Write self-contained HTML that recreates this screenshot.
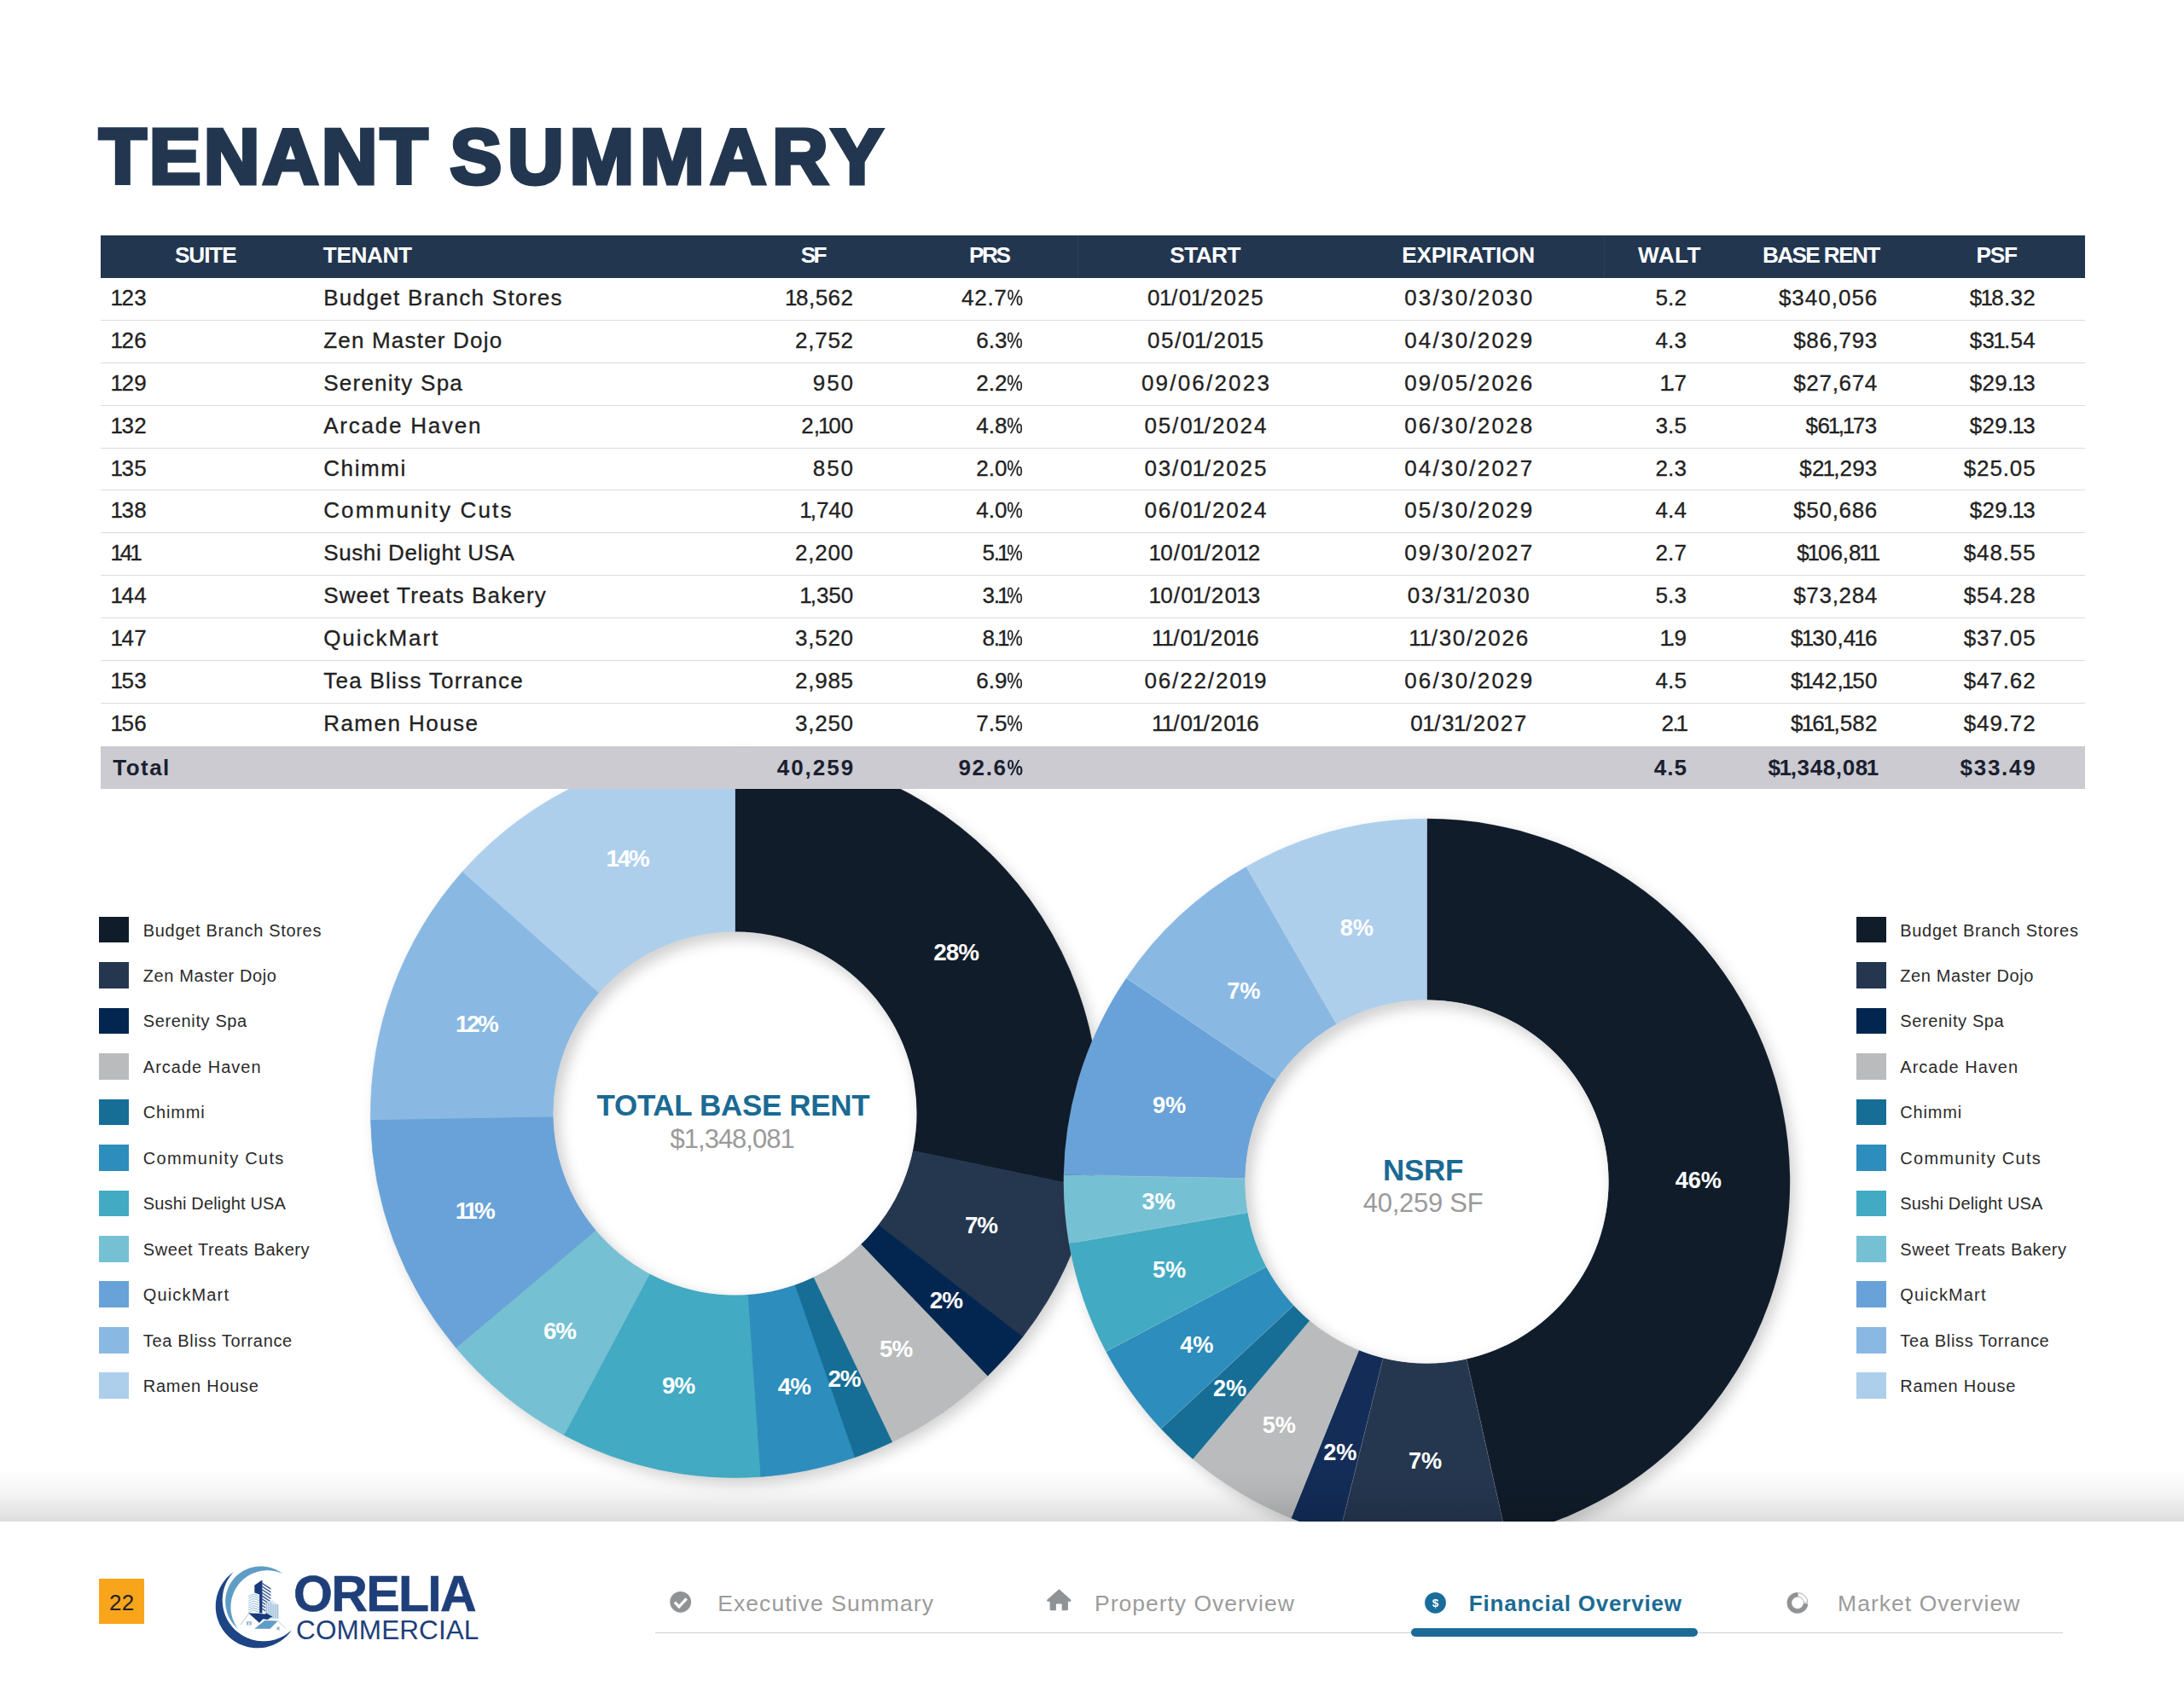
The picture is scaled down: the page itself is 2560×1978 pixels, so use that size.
<!DOCTYPE html>
<html><head><meta charset="utf-8"><title>Tenant Summary</title>
<style>
html,body{margin:0;padding:0;background:#fff}
body{width:2560px;height:1978px;position:relative;overflow:hidden;font-family:"Liberation Sans",sans-serif}
.t{position:absolute;white-space:pre;margin:0}
.r{position:absolute}
.t i{font-style:normal;margin:0 -2px}
.t b{display:inline-block;font-weight:inherit;transform:scaleX(.8);margin:0 -2.3px}
.dl1,.dl2{font-family:"Liberation Sans",sans-serif;font-weight:700;fill:#fff}
.dl1{font-size:27.8px;letter-spacing:-1px}
.dl2{font-size:27.2px;letter-spacing:-0.1px}
</style></head><body>
<h1 class="t" style="left:116.2px;top:138.8px;font-size:90.3px;line-height:90.3px;font-weight:700;color:#22364f;-webkit-text-stroke:5px #22364f;word-spacing:-2.23px"><span style="letter-spacing:3.74px">TENANT</span> <span style="letter-spacing:7.32px">SUMMARY</span></h1>
<svg class="r" style="left:0;top:0" width="2560" height="1978" viewBox="0 0 2560 1978">
<defs><filter id="sh" x="-10%" y="-10%" width="125%" height="125%"><feGaussianBlur in="SourceAlpha" stdDeviation="9"/><feOffset dx="6" dy="7"/><feComponentTransfer><feFuncA type="linear" slope="0.2"/></feComponentTransfer></filter><filter id="bl" x="-10%" y="-10%" width="120%" height="120%"><feGaussianBlur stdDeviation="8"/></filter></defs>
<circle cx="861.5" cy="1305.5" r="426" fill="#5a6470" filter="url(#sh)"/>
<path d="M861.50 878.50A427 427 0 0 1 1279.39 1393.21L1069.96 1349.25A213 213 0 0 0 861.50 1092.50Z" fill="#101c2a" stroke="#101c2a" stroke-width="0.7"/>
<path d="M1279.39 1393.21A427 427 0 0 1 1198.67 1567.51L1029.69 1436.20A213 213 0 0 0 1069.96 1349.25Z" fill="#25364f" stroke="#25364f" stroke-width="0.7"/>
<path d="M1198.67 1567.51A427 427 0 0 1 1157.37 1613.38L1009.09 1459.08A213 213 0 0 0 1029.69 1436.20Z" fill="#02264f" stroke="#02264f" stroke-width="0.7"/>
<path d="M1157.37 1613.38A427 427 0 0 1 1045.58 1690.78L953.33 1497.69A213 213 0 0 0 1009.09 1459.08Z" fill="#b9bbbc" stroke="#b9bbbc" stroke-width="0.7"/>
<path d="M1045.58 1690.78A427 427 0 0 1 1001.65 1708.85L931.41 1506.70A213 213 0 0 0 953.33 1497.69Z" fill="#166e96" stroke="#166e96" stroke-width="0.7"/>
<path d="M1001.65 1708.85A427 427 0 0 1 891.13 1731.47L876.28 1517.99A213 213 0 0 0 931.41 1506.70Z" fill="#2d8dbc" stroke="#2d8dbc" stroke-width="0.7"/>
<path d="M891.13 1731.47A427 427 0 0 1 660.95 1682.47L761.46 1493.54A213 213 0 0 0 876.28 1517.99Z" fill="#42aac2" stroke="#42aac2" stroke-width="0.7"/>
<path d="M660.95 1682.47A427 427 0 0 1 534.57 1580.18L698.42 1442.52A213 213 0 0 0 761.46 1493.54Z" fill="#76c0d4" stroke="#76c0d4" stroke-width="0.7"/>
<path d="M534.57 1580.18A427 427 0 0 1 434.56 1312.76L648.53 1309.12A213 213 0 0 0 698.42 1442.52Z" fill="#68a2d8" stroke="#68a2d8" stroke-width="0.7"/>
<path d="M434.56 1312.76A427 427 0 0 1 542.20 1021.99L702.23 1164.08A213 213 0 0 0 648.53 1309.12Z" fill="#89b9e3" stroke="#89b9e3" stroke-width="0.7"/>
<path d="M542.20 1021.99A427 427 0 0 1 861.50 878.50L861.50 1092.50A213 213 0 0 0 702.23 1164.08Z" fill="#aecfec" stroke="#aecfec" stroke-width="0.7"/>
<clipPath id="hc1"><circle cx="861.5" cy="1305.5" r="213"/></clipPath>
<circle cx="861.5" cy="1305.5" r="213" fill="#fff"/>
<g clip-path="url(#hc1)"><circle cx="867.5" cy="1312.5" r="223" fill="none" stroke="#000" stroke-opacity="0.19" stroke-width="22" filter="url(#bl)"/></g>
<text x="1120.6" y="1126.3" text-anchor="middle" class="dl1">28%</text>
<text x="1150.0" y="1446.1" text-anchor="middle" class="dl1">7%</text>
<text x="1108.8" y="1533.8" text-anchor="middle" class="dl1">2%</text>
<text x="1050.2" y="1590.9" text-anchor="middle" class="dl1">5%</text>
<text x="989.5" y="1626.1" text-anchor="middle" class="dl1">2%</text>
<text x="930.9" y="1635.3" text-anchor="middle" class="dl1">4%</text>
<text x="795.2" y="1633.7" text-anchor="middle" class="dl1">9%</text>
<text x="656.0" y="1570.0" text-anchor="middle" class="dl1">6%</text>
<text x="555.5" y="1428.7" text-anchor="middle" class="dl1" style="letter-spacing:-3.6px">11%</text>
<text x="558.1" y="1209.5" text-anchor="middle" class="dl1" style="letter-spacing:-2.4px">12%</text>
<text x="735.0" y="1015.7" text-anchor="middle" class="dl1" style="letter-spacing:-2.2px">14%</text>
<circle cx="1672.5" cy="1385.5" r="424.7" fill="#5a6470" filter="url(#sh)"/>
<path d="M1672.50 959.80A425.7 425.7 0 0 1 1765.36 1800.95L1718.96 1593.37A213 213 0 0 0 1672.50 1172.50Z" fill="#101c2a" stroke="#fff" stroke-opacity="0.09" stroke-width="1.1"/>
<path d="M1765.36 1800.95A425.7 425.7 0 0 1 1570.00 1798.68L1621.22 1592.23A213 213 0 0 0 1718.96 1593.37Z" fill="#25364f" stroke="#fff" stroke-opacity="0.09" stroke-width="1.1"/>
<path d="M1570.00 1798.68A425.7 425.7 0 0 1 1513.31 1780.31L1592.85 1583.05A213 213 0 0 0 1621.22 1592.23Z" fill="#132d58" stroke="#fff" stroke-opacity="0.09" stroke-width="1.1"/>
<path d="M1513.31 1780.31A425.7 425.7 0 0 1 1398.27 1711.11L1535.29 1548.42A213 213 0 0 0 1592.85 1583.05Z" fill="#b9bbbc" stroke="#fff" stroke-opacity="0.09" stroke-width="1.1"/>
<path d="M1398.27 1711.11A425.7 425.7 0 0 1 1360.72 1675.35L1516.50 1530.53A213 213 0 0 0 1535.29 1548.42Z" fill="#166e96" stroke="#fff" stroke-opacity="0.09" stroke-width="1.1"/>
<path d="M1360.72 1675.35A425.7 425.7 0 0 1 1296.28 1584.70L1484.26 1485.17A213 213 0 0 0 1516.50 1530.53Z" fill="#2d8dbc" stroke="#fff" stroke-opacity="0.09" stroke-width="1.1"/>
<path d="M1296.28 1584.70A425.7 425.7 0 0 1 1253.00 1457.90L1462.60 1421.73A213 213 0 0 0 1484.26 1485.17Z" fill="#42aac2" stroke="#fff" stroke-opacity="0.09" stroke-width="1.1"/>
<path d="M1253.00 1457.90A425.7 425.7 0 0 1 1246.88 1377.48L1459.54 1381.49A213 213 0 0 0 1462.60 1421.73Z" fill="#76c0d4" stroke="#fff" stroke-opacity="0.09" stroke-width="1.1"/>
<path d="M1246.88 1377.48A425.7 425.7 0 0 1 1320.11 1146.66L1496.18 1266.00A213 213 0 0 0 1459.54 1381.49Z" fill="#68a2d8" stroke="#fff" stroke-opacity="0.09" stroke-width="1.1"/>
<path d="M1320.11 1146.66A425.7 425.7 0 0 1 1460.89 1016.12L1566.62 1200.68A213 213 0 0 0 1496.18 1266.00Z" fill="#89b9e3" stroke="#fff" stroke-opacity="0.09" stroke-width="1.1"/>
<path d="M1460.89 1016.12A425.7 425.7 0 0 1 1672.50 959.80L1672.50 1172.50A213 213 0 0 0 1566.62 1200.68Z" fill="#aecfec" stroke="#fff" stroke-opacity="0.09" stroke-width="1.1"/>
<clipPath id="hc2"><circle cx="1672.5" cy="1385.5" r="213"/></clipPath>
<circle cx="1672.5" cy="1385.5" r="213" fill="#fff"/>
<g clip-path="url(#hc2)"><circle cx="1678.5" cy="1392.5" r="223" fill="none" stroke="#000" stroke-opacity="0.19" stroke-width="22" filter="url(#bl)"/></g>
<text x="1990.8" y="1393.0" text-anchor="middle" class="dl2">46%</text>
<text x="1670.5" y="1721.7" text-anchor="middle" class="dl2">7%</text>
<text x="1570.9" y="1712.3" text-anchor="middle" class="dl2">2%</text>
<text x="1499.4" y="1679.9" text-anchor="middle" class="dl2">5%</text>
<text x="1441.5" y="1636.6" text-anchor="middle" class="dl2">2%</text>
<text x="1402.9" y="1586.0" text-anchor="middle" class="dl2">4%</text>
<text x="1370.6" y="1498.4" text-anchor="middle" class="dl2">5%</text>
<text x="1358.1" y="1418.1" text-anchor="middle" class="dl2">3%</text>
<text x="1370.6" y="1305.4" text-anchor="middle" class="dl2">9%</text>
<text x="1457.7" y="1171.3" text-anchor="middle" class="dl2">7%</text>
<text x="1590.2" y="1096.7" text-anchor="middle" class="dl2">8%</text>
</svg>
<div class="t" style="left:699.6px;top:1278.2px;font-size:35px;line-height:35px;font-weight:700;color:#1a6a94;letter-spacing:-0.34px;">TOTAL BASE RENT</div>
<div class="t" style="left:785.6px;top:1320.0px;font-size:31px;line-height:31px;font-weight:400;color:#9a9a9a;letter-spacing:-1.01px;">$1,348,081</div>
<div class="t" style="left:1621.1px;top:1353.6px;font-size:35px;line-height:35px;font-weight:700;color:#1a6a94;letter-spacing:-0.33px;">NSRF</div>
<div class="t" style="left:1597.7px;top:1394.6px;font-size:31px;line-height:31px;font-weight:400;color:#9a9a9a;letter-spacing:-0.26px;">40,259 SF</div>
<div class="r" style="left:117.5px;top:276.4px;width:2326.7px;height:49.5px;background:#22364f;"></div>
<div class="r" style="left:1263.2px;top:276.4px;width:1.2px;height:49.5px;background:#2c4059;"></div>
<div class="r" style="left:1880.0px;top:276.4px;width:1.2px;height:49.5px;background:#2c4059;"></div>
<div class="t" style="left:204.9px;top:286.2px;font-size:26.2px;line-height:26.2px;font-weight:700;color:#fff;letter-spacing:-1.06px;">SUITE</div>
<div class="t" style="left:378.8px;top:286.2px;font-size:26.2px;line-height:26.2px;font-weight:700;color:#fff;letter-spacing:-0.40px;">TENANT</div>
<div class="t" style="left:938.7px;top:286.2px;font-size:26.2px;line-height:26.2px;font-weight:700;color:#fff;letter-spacing:-2.55px;">SF</div>
<div class="t" style="left:1135.9px;top:286.2px;font-size:26.2px;line-height:26.2px;font-weight:700;color:#fff;letter-spacing:-2.37px;">PRS</div>
<div class="t" style="left:1371.3px;top:286.2px;font-size:26.2px;line-height:26.2px;font-weight:700;color:#fff;letter-spacing:-0.56px;">START</div>
<div class="t" style="left:1643.2px;top:286.2px;font-size:26.2px;line-height:26.2px;font-weight:700;color:#fff;letter-spacing:-0.24px;">EXPIRATION</div>
<div class="t" style="left:1920.1px;top:286.2px;font-size:26.2px;line-height:26.2px;font-weight:700;color:#fff;letter-spacing:0.39px;">WALT</div>
<div class="t" style="left:2065.9px;top:286.2px;font-size:26.2px;line-height:26.2px;font-weight:700;color:#fff;letter-spacing:-1.61px;">BASE RENT</div>
<div class="t" style="left:2316.5px;top:286.2px;font-size:26.2px;line-height:26.2px;font-weight:700;color:#fff;letter-spacing:-1.21px;">PSF</div>
<div class="r" style="left:117.5px;top:375.0px;width:2326.7px;height:1.0px;background:#dcdcdf;"></div>
<div class="t" style="left:131.5px;top:336.1px;font-size:26px;line-height:26px;font-weight:400;color:#222;letter-spacing:0.44px;-webkit-text-stroke:.3px;"><i>1</i>23</div>
<div class="t" style="left:379.2px;top:336.1px;font-size:26px;line-height:26px;font-weight:400;color:#222;letter-spacing:1.31px;-webkit-text-stroke:.3px;">Budget Branch Stores</div>
<div class="t" style="left:921.9px;top:336.1px;font-size:26px;line-height:26px;font-weight:400;color:#222;letter-spacing:0.53px;-webkit-text-stroke:.3px;"><i>1</i>8,562</div>
<div class="t" style="left:1127.0px;top:336.1px;font-size:26px;line-height:26px;font-weight:400;color:#222;letter-spacing:0.74px;-webkit-text-stroke:.3px;">42.7<b>%</b></div>
<div class="t" style="left:1345.0px;top:336.1px;font-size:26px;line-height:26px;font-weight:400;color:#222;letter-spacing:1.52px;-webkit-text-stroke:.3px;">0<i>1</i>/0<i>1</i>/2025</div>
<div class="t" style="left:1646.2px;top:336.1px;font-size:26px;line-height:26px;font-weight:400;color:#222;letter-spacing:2.21px;-webkit-text-stroke:.3px;">03/30/2030</div>
<div class="t" style="left:1940.4px;top:336.1px;font-size:26px;line-height:26px;font-weight:400;color:#222;letter-spacing:0.19px;-webkit-text-stroke:.3px;">5.2</div>
<div class="t" style="left:2084.9px;top:336.1px;font-size:26px;line-height:26px;font-weight:400;color:#222;letter-spacing:1.00px;-webkit-text-stroke:.3px;">$340,056</div>
<div class="t" style="left:2308.8px;top:336.1px;font-size:26px;line-height:26px;font-weight:400;color:#222;letter-spacing:0.27px;-webkit-text-stroke:.3px;">$<i>1</i>8.32</div>
<div class="r" style="left:117.5px;top:425.0px;width:2326.7px;height:1.0px;background:#dcdcdf;"></div>
<div class="t" style="left:131.5px;top:385.9px;font-size:26px;line-height:26px;font-weight:400;color:#222;letter-spacing:0.44px;-webkit-text-stroke:.3px;"><i>1</i>26</div>
<div class="t" style="left:379.2px;top:385.9px;font-size:26px;line-height:26px;font-weight:400;color:#222;letter-spacing:1.20px;-webkit-text-stroke:.3px;">Zen Master Dojo</div>
<div class="t" style="left:932.1px;top:385.9px;font-size:26px;line-height:26px;font-weight:400;color:#222;letter-spacing:0.72px;-webkit-text-stroke:.3px;">2,752</div>
<div class="t" style="left:1144.3px;top:385.9px;font-size:26px;line-height:26px;font-weight:400;color:#222;letter-spacing:0.04px;-webkit-text-stroke:.3px;">6.3<b>%</b></div>
<div class="t" style="left:1345.0px;top:385.9px;font-size:26px;line-height:26px;font-weight:400;color:#222;letter-spacing:1.52px;-webkit-text-stroke:.3px;">05/0<i>1</i>/20<i>1</i>5</div>
<div class="t" style="left:1646.2px;top:385.9px;font-size:26px;line-height:26px;font-weight:400;color:#222;letter-spacing:2.21px;-webkit-text-stroke:.3px;">04/30/2029</div>
<div class="t" style="left:1940.4px;top:385.9px;font-size:26px;line-height:26px;font-weight:400;color:#222;letter-spacing:0.19px;-webkit-text-stroke:.3px;">4.3</div>
<div class="t" style="left:2102.2px;top:385.9px;font-size:26px;line-height:26px;font-weight:400;color:#222;letter-spacing:0.69px;-webkit-text-stroke:.3px;">$86,793</div>
<div class="t" style="left:2308.8px;top:385.9px;font-size:26px;line-height:26px;font-weight:400;color:#222;letter-spacing:0.27px;-webkit-text-stroke:.3px;">$3<i>1</i>.54</div>
<div class="r" style="left:117.5px;top:475.0px;width:2326.7px;height:1.0px;background:#dcdcdf;"></div>
<div class="t" style="left:131.5px;top:435.8px;font-size:26px;line-height:26px;font-weight:400;color:#222;letter-spacing:0.44px;-webkit-text-stroke:.3px;"><i>1</i>29</div>
<div class="t" style="left:379.2px;top:435.8px;font-size:26px;line-height:26px;font-weight:400;color:#222;letter-spacing:1.25px;-webkit-text-stroke:.3px;">Serenity Spa</div>
<div class="t" style="left:952.7px;top:435.8px;font-size:26px;line-height:26px;font-weight:400;color:#222;letter-spacing:1.99px;-webkit-text-stroke:.3px;">950</div>
<div class="t" style="left:1144.3px;top:435.8px;font-size:26px;line-height:26px;font-weight:400;color:#222;letter-spacing:0.04px;-webkit-text-stroke:.3px;">2.2<b>%</b></div>
<div class="t" style="left:1337.9px;top:435.8px;font-size:26px;line-height:26px;font-weight:400;color:#222;letter-spacing:2.21px;-webkit-text-stroke:.3px;">09/06/2023</div>
<div class="t" style="left:1646.2px;top:435.8px;font-size:26px;line-height:26px;font-weight:400;color:#222;letter-spacing:2.21px;-webkit-text-stroke:.3px;">09/05/2026</div>
<div class="t" style="left:1947.5px;top:435.8px;font-size:26px;line-height:26px;font-weight:400;color:#222;letter-spacing:-1.36px;-webkit-text-stroke:.3px;"><i>1</i>.7</div>
<div class="t" style="left:2102.2px;top:435.8px;font-size:26px;line-height:26px;font-weight:400;color:#222;letter-spacing:0.69px;-webkit-text-stroke:.3px;">$27,674</div>
<div class="t" style="left:2308.8px;top:435.8px;font-size:26px;line-height:26px;font-weight:400;color:#222;letter-spacing:0.27px;-webkit-text-stroke:.3px;">$29.<i>1</i>3</div>
<div class="r" style="left:117.5px;top:525.0px;width:2326.7px;height:1.0px;background:#dcdcdf;"></div>
<div class="t" style="left:131.5px;top:485.6px;font-size:26px;line-height:26px;font-weight:400;color:#222;letter-spacing:0.44px;-webkit-text-stroke:.3px;"><i>1</i>32</div>
<div class="t" style="left:379.2px;top:485.6px;font-size:26px;line-height:26px;font-weight:400;color:#222;letter-spacing:1.78px;-webkit-text-stroke:.3px;">Arcade Haven</div>
<div class="t" style="left:939.3px;top:485.6px;font-size:26px;line-height:26px;font-weight:400;color:#222;letter-spacing:-0.05px;-webkit-text-stroke:.3px;">2,<i>1</i>00</div>
<div class="t" style="left:1144.3px;top:485.6px;font-size:26px;line-height:26px;font-weight:400;color:#222;letter-spacing:0.04px;-webkit-text-stroke:.3px;">4.8<b>%</b></div>
<div class="t" style="left:1341.4px;top:485.6px;font-size:26px;line-height:26px;font-weight:400;color:#222;letter-spacing:1.87px;-webkit-text-stroke:.3px;">05/0<i>1</i>/2024</div>
<div class="t" style="left:1646.2px;top:485.6px;font-size:26px;line-height:26px;font-weight:400;color:#222;letter-spacing:2.21px;-webkit-text-stroke:.3px;">06/30/2028</div>
<div class="t" style="left:1940.4px;top:485.6px;font-size:26px;line-height:26px;font-weight:400;color:#222;letter-spacing:0.19px;-webkit-text-stroke:.3px;">3.5</div>
<div class="t" style="left:2116.4px;top:485.6px;font-size:26px;line-height:26px;font-weight:400;color:#222;letter-spacing:-0.35px;-webkit-text-stroke:.3px;">$6<i>1</i>,<i>1</i>73</div>
<div class="t" style="left:2308.8px;top:485.6px;font-size:26px;line-height:26px;font-weight:400;color:#222;letter-spacing:0.27px;-webkit-text-stroke:.3px;">$29.<i>1</i>3</div>
<div class="r" style="left:117.5px;top:574.0px;width:2326.7px;height:1.0px;background:#dcdcdf;"></div>
<div class="t" style="left:131.5px;top:535.5px;font-size:26px;line-height:26px;font-weight:400;color:#222;letter-spacing:0.44px;-webkit-text-stroke:.3px;"><i>1</i>35</div>
<div class="t" style="left:379.2px;top:535.5px;font-size:26px;line-height:26px;font-weight:400;color:#222;letter-spacing:1.62px;-webkit-text-stroke:.3px;">Chimmi</div>
<div class="t" style="left:952.7px;top:535.5px;font-size:26px;line-height:26px;font-weight:400;color:#222;letter-spacing:1.99px;-webkit-text-stroke:.3px;">850</div>
<div class="t" style="left:1144.3px;top:535.5px;font-size:26px;line-height:26px;font-weight:400;color:#222;letter-spacing:0.04px;-webkit-text-stroke:.3px;">2.0<b>%</b></div>
<div class="t" style="left:1341.4px;top:535.5px;font-size:26px;line-height:26px;font-weight:400;color:#222;letter-spacing:1.87px;-webkit-text-stroke:.3px;">03/0<i>1</i>/2025</div>
<div class="t" style="left:1646.2px;top:535.5px;font-size:26px;line-height:26px;font-weight:400;color:#222;letter-spacing:2.21px;-webkit-text-stroke:.3px;">04/30/2027</div>
<div class="t" style="left:1940.4px;top:535.5px;font-size:26px;line-height:26px;font-weight:400;color:#222;letter-spacing:0.19px;-webkit-text-stroke:.3px;">2.3</div>
<div class="t" style="left:2109.3px;top:535.5px;font-size:26px;line-height:26px;font-weight:400;color:#222;letter-spacing:0.17px;-webkit-text-stroke:.3px;">$2<i>1</i>,293</div>
<div class="t" style="left:2301.7px;top:535.5px;font-size:26px;line-height:26px;font-weight:400;color:#222;letter-spacing:0.89px;-webkit-text-stroke:.3px;">$25.05</div>
<div class="r" style="left:117.5px;top:624.0px;width:2326.7px;height:1.0px;background:#dcdcdf;"></div>
<div class="t" style="left:131.5px;top:585.4px;font-size:26px;line-height:26px;font-weight:400;color:#222;letter-spacing:0.44px;-webkit-text-stroke:.3px;"><i>1</i>38</div>
<div class="t" style="left:379.2px;top:585.4px;font-size:26px;line-height:26px;font-weight:400;color:#222;letter-spacing:2.16px;-webkit-text-stroke:.3px;">Community Cuts</div>
<div class="t" style="left:939.3px;top:585.4px;font-size:26px;line-height:26px;font-weight:400;color:#222;letter-spacing:-0.05px;-webkit-text-stroke:.3px;"><i>1</i>,740</div>
<div class="t" style="left:1144.3px;top:585.4px;font-size:26px;line-height:26px;font-weight:400;color:#222;letter-spacing:0.04px;-webkit-text-stroke:.3px;">4.0<b>%</b></div>
<div class="t" style="left:1341.4px;top:585.4px;font-size:26px;line-height:26px;font-weight:400;color:#222;letter-spacing:1.87px;-webkit-text-stroke:.3px;">06/0<i>1</i>/2024</div>
<div class="t" style="left:1646.2px;top:585.4px;font-size:26px;line-height:26px;font-weight:400;color:#222;letter-spacing:2.21px;-webkit-text-stroke:.3px;">05/30/2029</div>
<div class="t" style="left:1940.4px;top:585.4px;font-size:26px;line-height:26px;font-weight:400;color:#222;letter-spacing:0.19px;-webkit-text-stroke:.3px;">4.4</div>
<div class="t" style="left:2102.2px;top:585.4px;font-size:26px;line-height:26px;font-weight:400;color:#222;letter-spacing:0.69px;-webkit-text-stroke:.3px;">$50,686</div>
<div class="t" style="left:2308.8px;top:585.4px;font-size:26px;line-height:26px;font-weight:400;color:#222;letter-spacing:0.27px;-webkit-text-stroke:.3px;">$29.<i>1</i>3</div>
<div class="r" style="left:117.5px;top:674.0px;width:2326.7px;height:1.0px;background:#dcdcdf;"></div>
<div class="t" style="left:131.5px;top:635.2px;font-size:26px;line-height:26px;font-weight:400;color:#222;letter-spacing:-1.11px;-webkit-text-stroke:.3px;"><i>1</i>4<i>1</i></div>
<div class="t" style="left:379.2px;top:635.2px;font-size:26px;line-height:26px;font-weight:400;color:#222;letter-spacing:0.61px;-webkit-text-stroke:.3px;">Sushi Delight USA</div>
<div class="t" style="left:932.1px;top:635.2px;font-size:26px;line-height:26px;font-weight:400;color:#222;letter-spacing:0.72px;-webkit-text-stroke:.3px;">2,200</div>
<div class="t" style="left:1151.4px;top:635.2px;font-size:26px;line-height:26px;font-weight:400;color:#222;letter-spacing:-0.99px;-webkit-text-stroke:.3px;">5.<i>1</i><b>%</b></div>
<div class="t" style="left:1348.5px;top:635.2px;font-size:26px;line-height:26px;font-weight:400;color:#222;letter-spacing:1.18px;-webkit-text-stroke:.3px;"><i>1</i>0/0<i>1</i>/20<i>1</i>2</div>
<div class="t" style="left:1646.2px;top:635.2px;font-size:26px;line-height:26px;font-weight:400;color:#222;letter-spacing:2.21px;-webkit-text-stroke:.3px;">09/30/2027</div>
<div class="t" style="left:1940.4px;top:635.2px;font-size:26px;line-height:26px;font-weight:400;color:#222;letter-spacing:0.19px;-webkit-text-stroke:.3px;">2.7</div>
<div class="t" style="left:2106.2px;top:635.2px;font-size:26px;line-height:26px;font-weight:400;color:#222;letter-spacing:-0.06px;-webkit-text-stroke:.3px;">$<i>1</i>06,8<i>1</i><i>1</i></div>
<div class="t" style="left:2301.7px;top:635.2px;font-size:26px;line-height:26px;font-weight:400;color:#222;letter-spacing:0.89px;-webkit-text-stroke:.3px;">$48.55</div>
<div class="r" style="left:117.5px;top:724.0px;width:2326.7px;height:1.0px;background:#dcdcdf;"></div>
<div class="t" style="left:131.5px;top:685.1px;font-size:26px;line-height:26px;font-weight:400;color:#222;letter-spacing:0.44px;-webkit-text-stroke:.3px;"><i>1</i>44</div>
<div class="t" style="left:379.2px;top:685.1px;font-size:26px;line-height:26px;font-weight:400;color:#222;letter-spacing:1.15px;-webkit-text-stroke:.3px;">Sweet Treats Bakery</div>
<div class="t" style="left:939.3px;top:685.1px;font-size:26px;line-height:26px;font-weight:400;color:#222;letter-spacing:-0.05px;-webkit-text-stroke:.3px;"><i>1</i>,350</div>
<div class="t" style="left:1151.4px;top:685.1px;font-size:26px;line-height:26px;font-weight:400;color:#222;letter-spacing:-0.99px;-webkit-text-stroke:.3px;">3.<i>1</i><b>%</b></div>
<div class="t" style="left:1348.5px;top:685.1px;font-size:26px;line-height:26px;font-weight:400;color:#222;letter-spacing:1.18px;-webkit-text-stroke:.3px;"><i>1</i>0/0<i>1</i>/20<i>1</i>3</div>
<div class="t" style="left:1649.7px;top:685.1px;font-size:26px;line-height:26px;font-weight:400;color:#222;letter-spacing:1.87px;-webkit-text-stroke:.3px;">03/3<i>1</i>/2030</div>
<div class="t" style="left:1940.4px;top:685.1px;font-size:26px;line-height:26px;font-weight:400;color:#222;letter-spacing:0.19px;-webkit-text-stroke:.3px;">5.3</div>
<div class="t" style="left:2102.2px;top:685.1px;font-size:26px;line-height:26px;font-weight:400;color:#222;letter-spacing:0.69px;-webkit-text-stroke:.3px;">$73,284</div>
<div class="t" style="left:2301.7px;top:685.1px;font-size:26px;line-height:26px;font-weight:400;color:#222;letter-spacing:0.89px;-webkit-text-stroke:.3px;">$54.28</div>
<div class="r" style="left:117.5px;top:774.0px;width:2326.7px;height:1.0px;background:#dcdcdf;"></div>
<div class="t" style="left:131.5px;top:734.9px;font-size:26px;line-height:26px;font-weight:400;color:#222;letter-spacing:0.44px;-webkit-text-stroke:.3px;"><i>1</i>47</div>
<div class="t" style="left:379.2px;top:734.9px;font-size:26px;line-height:26px;font-weight:400;color:#222;letter-spacing:1.95px;-webkit-text-stroke:.3px;">QuickMart</div>
<div class="t" style="left:932.1px;top:734.9px;font-size:26px;line-height:26px;font-weight:400;color:#222;letter-spacing:0.72px;-webkit-text-stroke:.3px;">3,520</div>
<div class="t" style="left:1151.4px;top:734.9px;font-size:26px;line-height:26px;font-weight:400;color:#222;letter-spacing:-0.99px;-webkit-text-stroke:.3px;">8.<i>1</i><b>%</b></div>
<div class="t" style="left:1352.1px;top:734.9px;font-size:26px;line-height:26px;font-weight:400;color:#222;letter-spacing:1.05px;-webkit-text-stroke:.3px;"><i>1</i><i>1</i>/0<i>1</i>/20<i>1</i>6</div>
<div class="t" style="left:1653.3px;top:734.9px;font-size:26px;line-height:26px;font-weight:400;color:#222;letter-spacing:1.74px;-webkit-text-stroke:.3px;"><i>1</i><i>1</i>/30/2026</div>
<div class="t" style="left:1947.5px;top:734.9px;font-size:26px;line-height:26px;font-weight:400;color:#222;letter-spacing:-1.36px;-webkit-text-stroke:.3px;"><i>1</i>.9</div>
<div class="t" style="left:2099.1px;top:734.9px;font-size:26px;line-height:26px;font-weight:400;color:#222;letter-spacing:0.11px;-webkit-text-stroke:.3px;">$<i>1</i>30,4<i>1</i>6</div>
<div class="t" style="left:2301.7px;top:734.9px;font-size:26px;line-height:26px;font-weight:400;color:#222;letter-spacing:0.89px;-webkit-text-stroke:.3px;">$37.05</div>
<div class="r" style="left:117.5px;top:824.0px;width:2326.7px;height:1.0px;background:#dcdcdf;"></div>
<div class="t" style="left:131.5px;top:784.8px;font-size:26px;line-height:26px;font-weight:400;color:#222;letter-spacing:0.44px;-webkit-text-stroke:.3px;"><i>1</i>53</div>
<div class="t" style="left:379.2px;top:784.8px;font-size:26px;line-height:26px;font-weight:400;color:#222;letter-spacing:1.27px;-webkit-text-stroke:.3px;">Tea Bliss Torrance</div>
<div class="t" style="left:932.1px;top:784.8px;font-size:26px;line-height:26px;font-weight:400;color:#222;letter-spacing:0.72px;-webkit-text-stroke:.3px;">2,985</div>
<div class="t" style="left:1144.3px;top:784.8px;font-size:26px;line-height:26px;font-weight:400;color:#222;letter-spacing:0.04px;-webkit-text-stroke:.3px;">6.9<b>%</b></div>
<div class="t" style="left:1341.4px;top:784.8px;font-size:26px;line-height:26px;font-weight:400;color:#222;letter-spacing:1.87px;-webkit-text-stroke:.3px;">06/22/20<i>1</i>9</div>
<div class="t" style="left:1646.2px;top:784.8px;font-size:26px;line-height:26px;font-weight:400;color:#222;letter-spacing:2.21px;-webkit-text-stroke:.3px;">06/30/2029</div>
<div class="t" style="left:1940.4px;top:784.8px;font-size:26px;line-height:26px;font-weight:400;color:#222;letter-spacing:0.19px;-webkit-text-stroke:.3px;">4.5</div>
<div class="t" style="left:2099.1px;top:784.8px;font-size:26px;line-height:26px;font-weight:400;color:#222;letter-spacing:0.11px;-webkit-text-stroke:.3px;">$<i>1</i>42,<i>1</i>50</div>
<div class="t" style="left:2301.7px;top:784.8px;font-size:26px;line-height:26px;font-weight:400;color:#222;letter-spacing:0.89px;-webkit-text-stroke:.3px;">$47.62</div>
<div class="t" style="left:131.5px;top:834.7px;font-size:26px;line-height:26px;font-weight:400;color:#222;letter-spacing:0.44px;-webkit-text-stroke:.3px;"><i>1</i>56</div>
<div class="t" style="left:379.2px;top:834.7px;font-size:26px;line-height:26px;font-weight:400;color:#222;letter-spacing:1.46px;-webkit-text-stroke:.3px;">Ramen House</div>
<div class="t" style="left:932.1px;top:834.7px;font-size:26px;line-height:26px;font-weight:400;color:#222;letter-spacing:0.72px;-webkit-text-stroke:.3px;">3,250</div>
<div class="t" style="left:1144.3px;top:834.7px;font-size:26px;line-height:26px;font-weight:400;color:#222;letter-spacing:0.04px;-webkit-text-stroke:.3px;">7.5<b>%</b></div>
<div class="t" style="left:1352.1px;top:834.7px;font-size:26px;line-height:26px;font-weight:400;color:#222;letter-spacing:1.05px;-webkit-text-stroke:.3px;"><i>1</i><i>1</i>/0<i>1</i>/20<i>1</i>6</div>
<div class="t" style="left:1653.3px;top:834.7px;font-size:26px;line-height:26px;font-weight:400;color:#222;letter-spacing:1.52px;-webkit-text-stroke:.3px;">0<i>1</i>/3<i>1</i>/2027</div>
<div class="t" style="left:1947.5px;top:834.7px;font-size:26px;line-height:26px;font-weight:400;color:#222;letter-spacing:-1.36px;-webkit-text-stroke:.3px;">2.<i>1</i></div>
<div class="t" style="left:2099.1px;top:834.7px;font-size:26px;line-height:26px;font-weight:400;color:#222;letter-spacing:0.11px;-webkit-text-stroke:.3px;">$<i>1</i>6<i>1</i>,582</div>
<div class="t" style="left:2301.7px;top:834.7px;font-size:26px;line-height:26px;font-weight:400;color:#222;letter-spacing:0.89px;-webkit-text-stroke:.3px;">$49.72</div>
<div class="r" style="left:117.5px;top:874.7px;width:2326.7px;height:49.9px;background:#cbcbd1;"></div>
<div class="t" style="left:132.3px;top:887.3px;font-size:26px;line-height:26px;font-weight:700;color:#1b1f30;letter-spacing:1.46px;">Total</div>
<div class="t" style="left:910.7px;top:887.3px;font-size:26px;line-height:26px;font-weight:700;color:#1b1f30;letter-spacing:1.98px;">40,259</div>
<div class="t" style="left:1123.5px;top:887.3px;font-size:26px;line-height:26px;font-weight:700;color:#1b1f30;letter-spacing:1.62px;">92.6<b>%</b></div>
<div class="t" style="left:1938.7px;top:887.3px;font-size:26px;line-height:26px;font-weight:700;color:#1b1f30;letter-spacing:1.05px;">4.5</div>
<div class="t" style="left:2072.5px;top:887.3px;font-size:26px;line-height:26px;font-weight:700;color:#1b1f30;letter-spacing:0.63px;">$<i>1</i>,348,08<i>1</i></div>
<div class="t" style="left:2297.6px;top:887.3px;font-size:26px;line-height:26px;font-weight:700;color:#1b1f30;letter-spacing:1.71px;">$33.49</div>
<div class="r" style="left:115.8px;top:1074.6px;width:35.3px;height:30.8px;background:#101c2a;"></div>
<div class="t" style="left:167.8px;top:1080.5px;font-size:20px;line-height:20px;font-weight:400;color:#2a2a2a;letter-spacing:0.68px;">Budget Branch Stores</div>
<div class="r" style="left:115.8px;top:1128.1px;width:35.3px;height:30.8px;background:#25364f;"></div>
<div class="t" style="left:167.8px;top:1133.9px;font-size:20px;line-height:20px;font-weight:400;color:#2a2a2a;letter-spacing:0.59px;">Zen Master Dojo</div>
<div class="r" style="left:115.8px;top:1181.6px;width:35.3px;height:30.8px;background:#02264f;"></div>
<div class="t" style="left:167.8px;top:1187.4px;font-size:20px;line-height:20px;font-weight:400;color:#2a2a2a;letter-spacing:0.63px;">Serenity Spa</div>
<div class="r" style="left:115.8px;top:1235.0px;width:35.3px;height:30.8px;background:#b9bbbc;"></div>
<div class="t" style="left:167.8px;top:1240.9px;font-size:20px;line-height:20px;font-weight:400;color:#2a2a2a;letter-spacing:1.00px;">Arcade Haven</div>
<div class="r" style="left:115.8px;top:1288.5px;width:35.3px;height:30.8px;background:#166e96;"></div>
<div class="t" style="left:167.8px;top:1294.4px;font-size:20px;line-height:20px;font-weight:400;color:#2a2a2a;letter-spacing:0.82px;">Chimmi</div>
<div class="r" style="left:115.8px;top:1342.0px;width:35.3px;height:30.8px;background:#2d8dbc;"></div>
<div class="t" style="left:167.8px;top:1347.9px;font-size:20px;line-height:20px;font-weight:400;color:#2a2a2a;letter-spacing:1.28px;">Community Cuts</div>
<div class="r" style="left:115.8px;top:1395.5px;width:35.3px;height:30.8px;background:#42aac2;"></div>
<div class="t" style="left:167.8px;top:1401.3px;font-size:20px;line-height:20px;font-weight:400;color:#2a2a2a;letter-spacing:0.16px;">Sushi Delight USA</div>
<div class="r" style="left:115.8px;top:1449.0px;width:35.3px;height:30.8px;background:#76c0d4;"></div>
<div class="t" style="left:167.8px;top:1454.8px;font-size:20px;line-height:20px;font-weight:400;color:#2a2a2a;letter-spacing:0.57px;">Sweet Treats Bakery</div>
<div class="r" style="left:115.8px;top:1502.4px;width:35.3px;height:30.8px;background:#68a2d8;"></div>
<div class="t" style="left:167.8px;top:1508.3px;font-size:20px;line-height:20px;font-weight:400;color:#2a2a2a;letter-spacing:1.13px;">QuickMart</div>
<div class="r" style="left:115.8px;top:1555.9px;width:35.3px;height:30.8px;background:#89b9e3;"></div>
<div class="t" style="left:167.8px;top:1561.8px;font-size:20px;line-height:20px;font-weight:400;color:#2a2a2a;letter-spacing:0.67px;">Tea Bliss Torrance</div>
<div class="r" style="left:115.8px;top:1609.4px;width:35.3px;height:30.8px;background:#aecfec;"></div>
<div class="t" style="left:167.8px;top:1615.3px;font-size:20px;line-height:20px;font-weight:400;color:#2a2a2a;letter-spacing:0.73px;">Ramen House</div>
<div class="r" style="left:2175.7px;top:1074.6px;width:35.3px;height:30.8px;background:#101c2a;"></div>
<div class="t" style="left:2227.3px;top:1080.5px;font-size:20px;line-height:20px;font-weight:400;color:#2a2a2a;letter-spacing:0.68px;">Budget Branch Stores</div>
<div class="r" style="left:2175.7px;top:1128.1px;width:35.3px;height:30.8px;background:#25364f;"></div>
<div class="t" style="left:2227.3px;top:1133.9px;font-size:20px;line-height:20px;font-weight:400;color:#2a2a2a;letter-spacing:0.59px;">Zen Master Dojo</div>
<div class="r" style="left:2175.7px;top:1181.6px;width:35.3px;height:30.8px;background:#02264f;"></div>
<div class="t" style="left:2227.3px;top:1187.4px;font-size:20px;line-height:20px;font-weight:400;color:#2a2a2a;letter-spacing:0.63px;">Serenity Spa</div>
<div class="r" style="left:2175.7px;top:1235.0px;width:35.3px;height:30.8px;background:#b9bbbc;"></div>
<div class="t" style="left:2227.3px;top:1240.9px;font-size:20px;line-height:20px;font-weight:400;color:#2a2a2a;letter-spacing:1.00px;">Arcade Haven</div>
<div class="r" style="left:2175.7px;top:1288.5px;width:35.3px;height:30.8px;background:#166e96;"></div>
<div class="t" style="left:2227.3px;top:1294.4px;font-size:20px;line-height:20px;font-weight:400;color:#2a2a2a;letter-spacing:0.82px;">Chimmi</div>
<div class="r" style="left:2175.7px;top:1342.0px;width:35.3px;height:30.8px;background:#2d8dbc;"></div>
<div class="t" style="left:2227.3px;top:1347.9px;font-size:20px;line-height:20px;font-weight:400;color:#2a2a2a;letter-spacing:1.28px;">Community Cuts</div>
<div class="r" style="left:2175.7px;top:1395.5px;width:35.3px;height:30.8px;background:#42aac2;"></div>
<div class="t" style="left:2227.3px;top:1401.3px;font-size:20px;line-height:20px;font-weight:400;color:#2a2a2a;letter-spacing:0.16px;">Sushi Delight USA</div>
<div class="r" style="left:2175.7px;top:1449.0px;width:35.3px;height:30.8px;background:#76c0d4;"></div>
<div class="t" style="left:2227.3px;top:1454.8px;font-size:20px;line-height:20px;font-weight:400;color:#2a2a2a;letter-spacing:0.57px;">Sweet Treats Bakery</div>
<div class="r" style="left:2175.7px;top:1502.4px;width:35.3px;height:30.8px;background:#68a2d8;"></div>
<div class="t" style="left:2227.3px;top:1508.3px;font-size:20px;line-height:20px;font-weight:400;color:#2a2a2a;letter-spacing:1.13px;">QuickMart</div>
<div class="r" style="left:2175.7px;top:1555.9px;width:35.3px;height:30.8px;background:#89b9e3;"></div>
<div class="t" style="left:2227.3px;top:1561.8px;font-size:20px;line-height:20px;font-weight:400;color:#2a2a2a;letter-spacing:0.67px;">Tea Bliss Torrance</div>
<div class="r" style="left:2175.7px;top:1609.4px;width:35.3px;height:30.8px;background:#aecfec;"></div>
<div class="t" style="left:2227.3px;top:1615.3px;font-size:20px;line-height:20px;font-weight:400;color:#2a2a2a;letter-spacing:0.73px;">Ramen House</div>
<div class="r" style="left:0;top:1722px;width:2560px;height:62px;background:linear-gradient(to bottom,rgba(0,0,0,0) 0%,rgba(0,0,0,0.03) 40%,rgba(0,0,0,0.132) 100%)"></div>
<div class="r" style="left:0.0px;top:1783.5px;width:2560.0px;height:200.0px;background:#fff;"></div>
<div class="r" style="left:116.0px;top:1851.4px;width:53.2px;height:52.8px;background:#f9a51c;"></div>
<div class="t" style="left:128.1px;top:1866.0px;font-size:26px;line-height:26px;font-weight:400;color:#222;letter-spacing:0.09px;">22</div>
<svg class="r" style="left:240px;top:1825px" width="120" height="120" viewBox="240 1825 120 120">
<path d="M342.0 1911.1L341.0 1912.5L340.0 1913.9L338.9 1915.2L337.8 1916.5L336.6 1917.7L335.4 1918.9L334.1 1920.1L332.8 1921.2L331.5 1922.2L330.1 1923.3L328.7 1924.2L327.3 1925.1L325.8 1926.0L324.3 1926.8L322.8 1927.6L321.2 1928.3L319.6 1928.9L318.0 1929.5L316.4 1930.1L314.8 1930.6L313.1 1931.0L311.5 1931.4L309.8 1931.7L308.1 1931.9L306.4 1932.1L304.7 1932.3L303.0 1932.3L301.3 1932.3L299.6 1932.3L297.9 1932.2L296.2 1932.0L294.5 1931.8L292.8 1931.5L291.1 1931.2L289.4 1930.8L287.8 1930.3L286.2 1929.8L284.6 1929.3L283.0 1928.6L281.4 1927.9L279.9 1927.2L278.3 1926.4L276.9 1925.6L275.4 1924.7L274.0 1923.7L272.6 1922.7L271.2 1921.7L269.9 1920.6L268.6 1919.5L267.4 1918.3L266.2 1917.1L265.0 1915.8L263.9 1914.5L262.9 1913.2L261.8 1911.8L260.9 1910.4L260.0 1909.0L259.1 1907.5L258.3 1906.0L257.5 1904.5L256.8 1902.9L256.2 1901.3L255.6 1899.7L255.0 1898.1L254.5 1896.5L254.1 1894.8L253.7 1893.2L253.4 1891.5L253.2 1889.8L253.0 1888.1L252.8 1886.4L252.8 1884.7L252.8 1883.0L252.8 1881.3L252.9 1879.6L253.1 1877.9L253.3 1876.2L253.6 1874.5L253.9 1872.8L254.3 1871.1L254.8 1869.5L255.3 1867.9L255.8 1866.3L256.5 1864.7L257.2 1863.1L257.9 1861.6L258.7 1860.0L259.5 1858.6L260.4 1857.1L261.4 1855.7L262.4 1854.3L263.4 1852.9L264.5 1851.6L265.6 1850.3L266.8 1849.1L268.0 1847.9L269.3 1846.7L270.6 1845.6L271.9 1844.6L273.3 1843.5L273.6 1843.3L273.6 1843.3L272.5 1844.6L271.4 1845.8L270.4 1847.2L269.4 1848.5L268.5 1849.9L267.6 1851.4L266.7 1852.8L265.9 1854.3L265.2 1855.8L264.5 1857.3L263.9 1858.9L263.3 1860.5L262.8 1862.1L262.3 1863.7L261.9 1865.3L261.6 1867.0L261.3 1868.6L261.1 1870.3L260.9 1872.0L260.8 1873.6L260.7 1875.3L260.7 1877.0L260.8 1878.7L260.9 1880.3L261.1 1882.0L261.3 1883.7L261.6 1885.3L261.9 1887.0L262.3 1888.6L262.8 1890.2L263.3 1891.8L263.9 1893.4L264.5 1895.0L265.2 1896.5L265.9 1898.0L266.7 1899.5L267.6 1900.9L268.5 1902.4L269.4 1903.8L270.4 1905.1L271.4 1906.5L272.5 1907.7L273.6 1909.0L274.8 1910.2L276.0 1911.4L277.3 1912.5L278.5 1913.6L279.9 1914.6L281.2 1915.6L282.6 1916.5L284.1 1917.4L285.5 1918.3L287.0 1919.1L288.5 1919.8L290.0 1920.5L291.6 1921.1L293.2 1921.7L294.8 1922.2L296.4 1922.7L298.0 1923.1L299.7 1923.4L301.3 1923.7L303.0 1923.9L304.7 1924.1L306.3 1924.2L308.0 1924.3L309.7 1924.3L311.4 1924.2L313.0 1924.1L314.7 1923.9L316.4 1923.7L318.0 1923.4L319.7 1923.1L321.3 1922.7L322.9 1922.2L324.5 1921.7L326.1 1921.1L327.7 1920.5L329.2 1919.8L330.7 1919.1L332.2 1918.3L333.6 1917.4L335.1 1916.5L336.5 1915.6L337.8 1914.6L339.2 1913.6L340.4 1912.5L341.7 1911.4L342.0 1911.1Z" fill="#1d4484"/>
<path d="M279.0 1909.8L277.9 1908.9L276.8 1907.9L275.8 1906.9L274.8 1905.8L273.9 1904.7L273.0 1903.6L272.1 1902.4L271.3 1901.2L270.5 1900.0L269.7 1898.8L269.0 1897.5L268.4 1896.2L267.7 1894.9L267.2 1893.6L266.7 1892.2L266.2 1890.8L265.8 1889.5L265.4 1888.1L265.1 1886.6L264.8 1885.2L264.6 1883.8L264.4 1882.3L264.3 1880.9L264.2 1879.5L264.1 1878.0L264.2 1876.5L264.3 1875.1L264.4 1873.7L264.6 1872.2L264.8 1870.8L265.1 1869.4L265.4 1867.9L265.8 1866.5L266.2 1865.2L266.7 1863.8L267.2 1862.4L267.7 1861.1L268.4 1859.8L269.0 1858.5L269.7 1857.2L270.5 1856.0L271.3 1854.8L272.1 1853.6L273.0 1852.4L273.9 1851.3L274.8 1850.2L275.8 1849.1L276.8 1848.1L277.9 1847.1L279.0 1846.2L280.1 1845.3L281.3 1844.4L282.5 1843.6L283.7 1842.8L284.9 1842.0L286.2 1841.3L287.5 1840.7L288.8 1840.0L290.1 1839.5L291.5 1839.0L292.9 1838.5L294.2 1838.1L295.6 1837.7L297.1 1837.4L298.5 1837.1L299.9 1836.9L301.4 1836.7L302.8 1836.6L304.2 1836.5L305.7 1836.5L307.2 1836.5L308.6 1836.6L310.0 1836.7L311.5 1836.9L312.9 1837.1L314.3 1837.4L315.8 1837.7L317.2 1838.1L318.5 1838.5L319.9 1839.0L321.3 1839.5L322.6 1840.0L323.9 1840.7L325.2 1841.3L326.5 1842.0L327.7 1842.8L328.9 1843.6L330.1 1844.4L331.0 1845.0L330.8 1845.0L329.5 1844.4L328.1 1843.9L326.7 1843.4L325.2 1843.0L323.8 1842.6L322.3 1842.2L320.8 1842.0L319.4 1841.7L317.9 1841.5L316.4 1841.4L314.9 1841.3L313.4 1841.3L311.9 1841.3L310.4 1841.4L308.9 1841.5L307.4 1841.7L306.0 1842.0L304.5 1842.2L303.0 1842.6L301.6 1843.0L300.1 1843.4L298.7 1843.9L297.3 1844.4L296.0 1845.0L294.6 1845.6L293.3 1846.3L291.9 1847.0L290.7 1847.8L289.4 1848.6L288.2 1849.5L287.0 1850.4L285.8 1851.3L284.7 1852.3L283.6 1853.3L282.5 1854.4L281.5 1855.5L280.5 1856.6L279.6 1857.8L278.7 1859.0L277.8 1860.2L277.0 1861.5L276.2 1862.8L275.5 1864.1L274.8 1865.4L274.2 1866.8L273.6 1868.1L273.1 1869.5L272.6 1870.9L272.2 1872.4L271.8 1873.8L271.4 1875.3L271.2 1876.8L270.9 1878.2L270.7 1879.7L270.6 1881.2L270.5 1882.7L270.5 1884.2L270.5 1885.7L270.6 1887.2L270.7 1888.7L270.9 1890.2L271.2 1891.6L271.4 1893.1L271.8 1894.6L272.2 1896.0L272.6 1897.5L273.1 1898.9L273.6 1900.3L274.2 1901.6L274.8 1903.0L275.5 1904.3L276.2 1905.7L277.0 1906.9L277.8 1908.2L278.7 1909.4L278.9 1909.7Z" fill="#5f9dc6"/>
<g transform="translate(240 1825) scale(0.07112)">
<path d="M945 430L1090 525L1090 550L945 455Z" fill="#1d4484" opacity="0.85"/>
<path d="M945 482L1090 577L1090 602L945 507Z" fill="#1d4484" opacity="0.85"/>
<path d="M945 534L1090 629L1090 654L945 559Z" fill="#1d4484" opacity="0.85"/>
<path d="M945 586L1090 681L1090 706L945 611Z" fill="#1d4484" opacity="0.85"/>
<path d="M945 638L1090 733L1090 758L945 663Z" fill="#1d4484" opacity="0.85"/>
<path d="M945 690L1090 785L1090 810L945 715Z" fill="#1d4484" opacity="0.85"/>
<path d="M945 742L1090 837L1090 862L945 767Z" fill="#1d4484" opacity="0.85"/>
<path d="M945 794L1090 889L1090 914L945 819Z" fill="#1d4484" opacity="0.85"/>
<path d="M945 846L1090 941L1090 966L945 871Z" fill="#1d4484" opacity="0.85"/>
<path d="M820 475L935 392L948 392L948 935L820 935Z" fill="#173a7a"/>
<path d="M715 640L800 590L902 625L902 935L715 935Z" fill="#fff"/>
<path d="M720 648L800 610L900 642L900 660L800 628L720 666Z" fill="#a9c9e2"/>
<path d="M720 686L800 648L900 680L900 698L800 666L720 704Z" fill="#a9c9e2"/>
<path d="M720 724L800 686L900 718L900 736L800 704L720 742Z" fill="#a9c9e2"/>
<path d="M720 762L800 724L900 756L900 774L800 742L720 780Z" fill="#a9c9e2"/>
<path d="M720 800L800 762L900 794L900 812L800 780L720 818Z" fill="#a9c9e2"/>
<path d="M720 838L800 800L900 832L900 850L800 818L720 856Z" fill="#a9c9e2"/>
<path d="M720 876L800 838L900 870L900 888L800 856L720 894Z" fill="#a9c9e2"/>
<path d="M720 914L800 876L900 908L900 926L800 894L720 932Z" fill="#a9c9e2"/>
<path d="M1000 765L1110 722L1222 800L1222 1025L1000 1025Z" fill="#dbe8f3"/>
<rect x="1010" y="760" width="18" height="260" fill="#9bbdd8"/>
<rect x="1046" y="760" width="18" height="260" fill="#9bbdd8"/>
<rect x="1082" y="760" width="18" height="260" fill="#9bbdd8"/>
<rect x="1118" y="790" width="18" height="230" fill="#9bbdd8"/>
<rect x="1154" y="790" width="18" height="230" fill="#9bbdd8"/>
<rect x="1190" y="790" width="18" height="230" fill="#9bbdd8"/>
<path d="M720 930L1000 948L1012 930L1120 995L1075 1010L1040 1040L960 1030L900 1092Z" fill="#173a7a"/>
<path d="M820 1192L990 1055L1205 1060L1078 1192Z" fill="#5f9dc6"/>
<path d="M590 1125L728 940" stroke="#a9c9e2" stroke-width="14" fill="none"/>
<path d="M1200 1058L1335 1185" stroke="#a9c9e2" stroke-width="12" fill="none"/>
<rect x="690" y="1070" width="80" height="62" fill="#9db4c8"/><rect x="716" y="1085" width="26" height="47" fill="#e8eef4"/>
<rect x="1188" y="1160" width="44" height="52" fill="#9db4c8"/>
</g></svg>
<div class="t" style="left:344.0px;top:1840.4px;font-size:59px;line-height:59px;font-weight:700;color:#1f3f7a;letter-spacing:-1.64px;-webkit-text-stroke:0.6px #1f3f7a;">ORELIA</div>
<div class="t" style="left:347.1px;top:1895.9px;font-size:31.5px;line-height:31.5px;font-weight:400;color:#1f3f7a;letter-spacing:0.08px;">COMMERCIAL</div>
<div class="r" style="left:768.0px;top:1913.6px;width:1650.0px;height:1.7px;background:#cdd0d2;"></div>
<div class="r" style="left:1653.5px;top:1909.3px;width:336px;height:9.6px;border-radius:5px;background:#1d6a96"></div>
<div class="t" style="left:841.2px;top:1867.2px;font-size:26.5px;line-height:26.5px;font-weight:400;color:#9b9b9b;letter-spacing:1.07px;">Executive Summary</div>
<div class="t" style="left:1283.0px;top:1867.2px;font-size:26.5px;line-height:26.5px;font-weight:400;color:#9b9b9b;letter-spacing:0.99px;">Property Overview</div>
<div class="t" style="left:1721.8px;top:1867.3px;font-size:26px;line-height:26px;font-weight:700;color:#1b6b93;letter-spacing:0.80px;">Financial Overview</div>
<div class="t" style="left:2154.1px;top:1867.2px;font-size:26.5px;line-height:26.5px;font-weight:400;color:#9b9b9b;letter-spacing:1.03px;">Market Overview</div>
<svg class="r" style="left:760px;top:1850px" width="1400" height="60" viewBox="760 1850 1400 60">
<circle cx="797.7" cy="1878.3" r="12.4" fill="#909395"/><path d="M790.9 1878.7L795.9 1883.8L804.7 1874.4" fill="none" stroke="#fff" stroke-width="3.3" stroke-linejoin="miter"/>
<path d="M1241.4 1863.3L1255.3 1875.7Q1256 1877.8 1254 1877.8L1251.9 1877.8L1251.9 1887Q1251.9 1888.3 1250.6 1888.3L1244.7 1888.3L1244.7 1881.6Q1244.7 1880.6 1243.7 1880.6L1238.9 1880.6Q1237.9 1880.6 1237.9 1881.6L1237.9 1888.3L1231.9 1888.3Q1230.6 1888.3 1230.6 1887L1230.6 1877.8L1228.6 1877.8Q1226.6 1877.8 1227.3 1875.7Z" fill="#909395"/>
<circle cx="1682.5" cy="1879.3" r="12.4" fill="#1a6d9b"/><text x="1682.5" y="1884.1" text-anchor="middle" font-family="Liberation Sans, sans-serif" font-weight="700" font-size="13.5" fill="#fff">$</text>
<path d="M2119.35 1880.48A12.4 12.4 0 1 1 2107.00 1867.00L2107.00 1872.60A6.8 6.8 0 1 0 2113.77 1879.99Z" fill="#909395"/>
<path d="M2107.83 1867.53A11.9 11.9 0 0 1 2118.89 1878.98L2114.30 1879.15A7.3 7.3 0 0 0 2107.51 1872.12Z" fill="#fff" stroke="#a9abad" stroke-width="1"/>
</svg>
</body></html>
